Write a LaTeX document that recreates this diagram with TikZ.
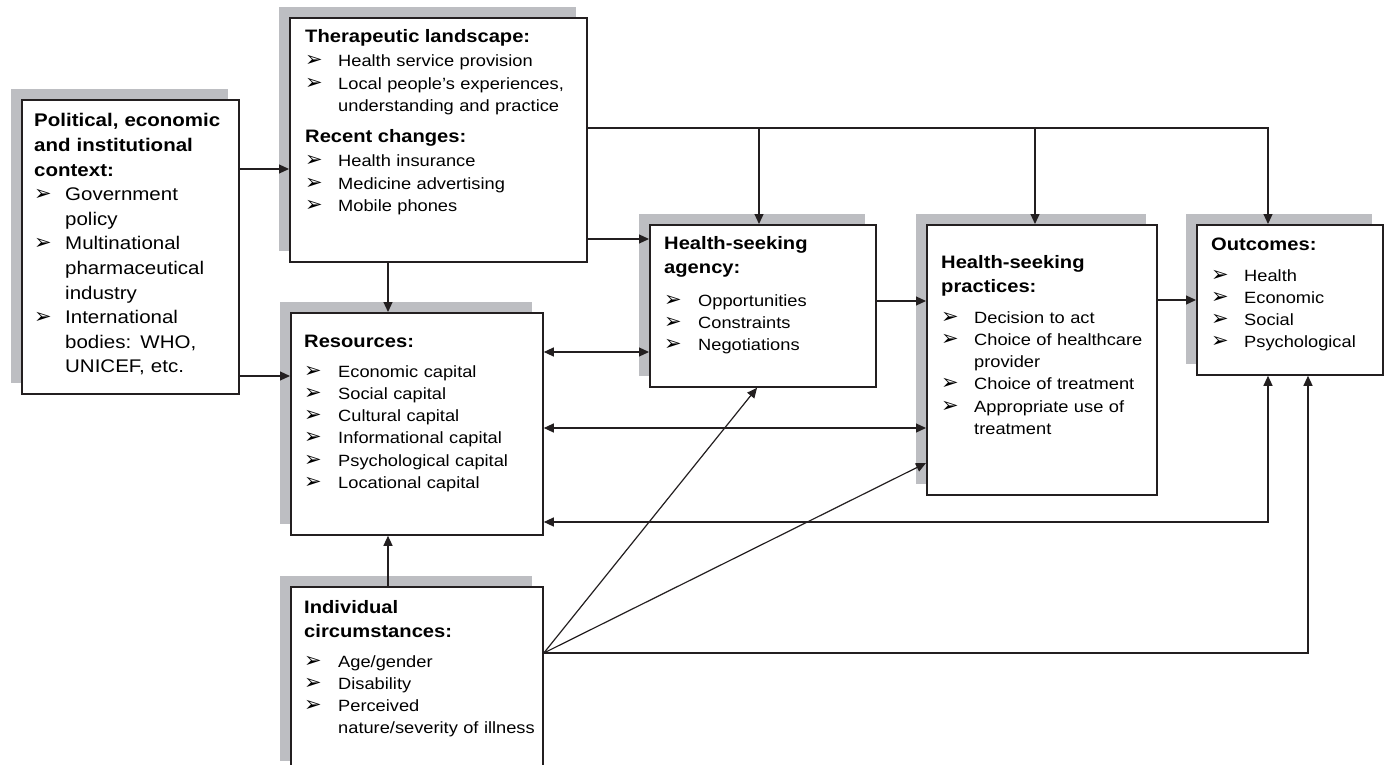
\documentclass[tikz,border=0pt]{standalone}
\usepackage{fontspec}
\setmainfont{Liberation Sans}[FakeStretch=1.12]
\newfontfamily\arrowfont{DejaVu Sans}
\usetikzlibrary{arrows.meta, shadows}

\definecolor{shadegray}{RGB}{189,190,194}
\definecolor{ink}{RGB}{35,31,32}

\newlength{\itmind}
% one bullet line of a box
\newcommand{\itm}[1]{\par\hangindent=\itmind\hangafter=1\noindent\hbox to\itmind{{\arrowfont\fontsize{21}{21}\selectfont\char"27A2}\hfil}#1}
% bold heading of a box
\newcommand{\ttl}[1]{{\noindent\fontsize{18}{24}\selectfont\bfseries #1\par}}

\tikzset{
    box/.style={draw=ink, line width=1.8pt, fill=white, inner sep=0pt, anchor=north west,
        general shadow={fill=shadegray, shadow xshift=-11pt, shadow yshift=11pt}},
    txt/.style={anchor=base west, inner sep=0pt, text width=300pt, align=left,
        font=\fontsize{16.3}{22.3}\selectfont,
        execute at begin node={\parskip=0pt\parindent=0pt\setlength{\itmind}{34pt}}},
    arr/.style={draw=ink, line width=1.2pt, -{Triangle[length=10pt,width=9pt]}},
    dbl/.style={arr, {Triangle[length=10pt,width=9pt]}-{Triangle[length=10pt,width=9pt]}}
}

\begin{document}
\begin{tikzpicture}[x=1pt, y=-1pt]
    \useasboundingbox (0,0) rectangle (1384,765);
    \clip (0,0) rectangle (1384,765);

    % Boxes
    \node[box, minimum width=217pt, minimum height=294pt] (pol) at (21,99) {};
    \node[box, minimum width=297pt, minimum height=244pt] (land) at (289,17) {};
    \node[box, minimum width=252pt, minimum height=222pt] (res) at (290,312) {};
    \node[box, minimum width=252pt, minimum height=185pt] (ind) at (290,586) {};
    \node[box, minimum width=226pt, minimum height=162pt] (agency) at (649,224) {};
    \node[box, minimum width=230pt, minimum height=270pt] (prac) at (926,224) {};
    \node[box, minimum width=186pt, minimum height=150pt] (out) at (1196,224) {};

    % Box texts
    \node[txt, font=\fontsize{18.3}{24.6}\selectfont] (poltxt) at (34,127) {%
        \setlength{\itmind}{31pt}%
        {\bfseries Political, economic\newline and institutional\newline context:\par}%
        \itm{Government\newline policy}%
        \itm{Multinational\newline pharmaceutical\newline industry}%
        \itm{International\newline bodies: WHO,\newline UNICEF, etc.}\par};

    \node[txt] (landtxt) at (305,43) {%
        \setlength{\itmind}{33pt}%
        \ttl{Therapeutic landscape:}\vspace{1.7pt}%
        \itm{Health service provision}%
        \itm{Local people’s experiences,\newline understanding and practice}\par
        \vspace{7.4pt}\ttl{Recent changes:}\vspace{1.7pt}%
        \itm{Health insurance}%
        \itm{Medicine advertising}%
        \itm{Mobile phones}\par};

    \node[txt] (restxt) at (304,347) {%
        \ttl{Resources:}\vspace{7.7pt}%
        \itm{Economic capital}%
        \itm{Social capital}%
        \itm{Cultural capital}%
        \itm{Informational capital}%
        \itm{Psychological capital}%
        \itm{Locational capital}\par};

    \node[txt] (indtxt) at (304,613) {%
        \ttl{Individual\newline circumstances:}\vspace{7.7pt}%
        \itm{Age/gender}%
        \itm{Disability}%
        \itm{Perceived\newline nature/severity of illness}\par};

    \node[txt] (agencytxt) at (664,249) {%
        \ttl{Health-seeking\newline agency:}\vspace{10.7pt}%
        \itm{Opportunities}%
        \itm{Constraints}%
        \itm{Negotiations}\par};

    \node[txt] (practxt) at (941,268) {%
        \setlength{\itmind}{33pt}%
        \ttl{Health-seeking\newline practices:}\vspace{8.7pt}%
        \itm{Decision to act}%
        \itm{Choice of healthcare\newline provider}%
        \itm{Choice of treatment}%
        \itm{Appropriate use of\newline treatment}\par};

    \node[txt] (outtxt) at (1211,250) {%
        \setlength{\itmind}{33pt}%
        \ttl{Outcomes:}\vspace{8.7pt}%
        \itm{Health}%
        \itm{Economic}%
        \itm{Social}%
        \itm{Psychological}\par};

    % Junction points
    \coordinate (brA) at (759,128);
    \coordinate (brB) at (1035,128);
    \coordinate (fan) at (ind.east |- 0,653);

    % Connectors
    \draw[arr] (pol.east |- 0,169) -- (land.west |- 0,169);
    \draw[arr] (pol.east |- 0,376) -- (res.west |- 0,376);
    \draw[arr] (land.south -| 388,0) -- (res.north -| 388,0);
    \draw[arr] (land.east |- 0,239) -- (agency.west |- 0,239);
    \draw[arr] (land.east |- 0,128) -| (out.north -| 1268,0);
    \draw[arr] (brA) -- (agency.north -| brA);
    \draw[arr] (brB) -- (prac.north -| brB);
    \draw[dbl] (res.east |- 0,352) -- (agency.west |- 0,352);
    \draw[dbl] (res.east |- 0,428) -- (prac.west |- 0,428);
    \draw[dbl] (res.east |- 0,522) -| (out.south -| 1268,0);
    \draw[arr] (ind.north -| 388,0) -- (res.south -| 388,0);
    \draw[arr] (agency.east |- 0,301) -- (prac.west |- 0,301);
    \draw[arr] (prac.east |- 0,300) -- (out.west |- 0,300);
    \draw[arr] (fan) -- (agency.south -| 757,0);
    \draw[arr] (fan) -- (prac.west |- 0,463);
    \draw[arr] (fan) -| (out.south -| 1308,0);
\end{tikzpicture}
\end{document}
